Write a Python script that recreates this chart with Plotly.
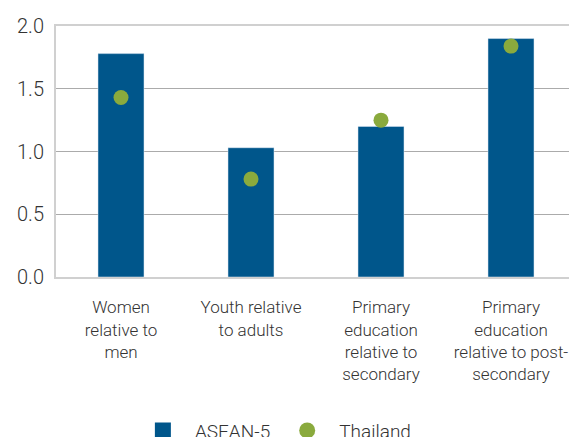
import plotly.graph_objects as go

categories = ["Women<br>relative to<br>men", "Youth relative<br>to adults",
              "Primary<br>education<br>relative to<br>secondary",
              "Primary<br>education<br>relative to post-<br>secondary"]
asean5 = [1.78, 1.03, 1.20, 1.90]
thailand = [1.43, 0.78, 1.25, 1.84]
y_ticks = [0.0, 0.5, 1.0, 1.5, 2.0]
y_tick_labels = ["0.0", "0.5", "1.0", "1.5", "2.0"]

BLUE = "#00568B"
GREEN = "#8AAA3D"
TXT = "#333333"
FONT = "Roboto"
W = 300

fig = go.Figure()
fig.add_trace(go.Bar(x=categories, y=asean5, marker_color=BLUE, width=0.354,
                     name="ASEAN-5", showlegend=False))
fig.add_trace(go.Scatter(x=categories, y=thailand, mode="markers",
                         marker=dict(color=GREEN, size=15), name="Thailand",
                         showlegend=False))
# legend entries
fig.add_trace(go.Scatter(x=[None], y=[None], mode="markers",
                         marker=dict(color=BLUE, size=18, symbol="square"),
                         name="ASEAN-5"))
fig.add_trace(go.Scatter(x=[None], y=[None], mode="markers",
                         marker=dict(color=GREEN, size=19, symbol="circle"),
                         name="Thailand"))

# page body has an 8px default margin, so the figure is offset by 8px
fig.update_layout(
    width=569, height=429,
    margin=dict(l=48, r=1, t=18, b=160, autoexpand=False),
    paper_bgcolor="white", plot_bgcolor="white",
    font=dict(family=FONT, color=TXT, size=17, weight=W),
    showlegend=True,
    legend=dict(orientation="h", x=0.144, xanchor="left", y=-0.612, yanchor="middle",
                font=dict(size=19, color=TXT, family=FONT, weight=W), itemwidth=54,
                tracegroupgap=0),
    xaxis=dict(type="category", showline=True, linecolor="#d0d0d0", linewidth=2,
               mirror=True, showgrid=False, ticks="", ticklabelstandoff=14,
               automargin=False,
               tickfont=dict(size=17, family=FONT, color=TXT, weight=W), fixedrange=True),
    yaxis=dict(range=[0, 2.0], tickvals=y_ticks, ticktext=y_tick_labels,
               showline=True, linecolor="#d0d0d0", linewidth=2,
               showgrid=True, gridcolor="#ababab", gridwidth=1, zeroline=False,
               ticks="", ticklabelstandoff=6, automargin=False,
               tickfont=dict(size=20, family=FONT, color=TXT, weight=W), fixedrange=True),
)

fig.write_html("out.html")
